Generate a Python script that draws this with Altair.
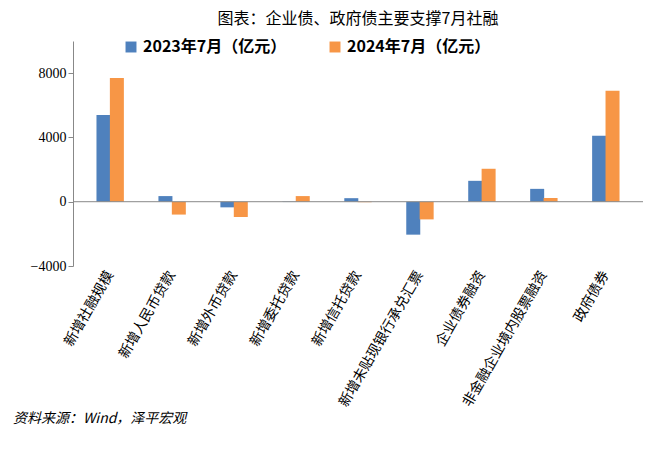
import altair as alt
import pandas as pd

categories = ["新增社融规模", "新增人民币贷款", "新增外币贷款", "新增委托贷款", "新增信托贷款",
              "新增未贴现银行承兑汇票", "企业债券融资", "非金融企业境内股票融资", "政府债券"]
v2023 = [5400, 350, -350, -20, 220, -2050, 1300, 800, 4100]
v2024 = [7700, -800, -950, 350, -30, -1100, 2050, 230, 6900]
series = ["2023年7月（亿元）", "2024年7月（亿元）"]

rows = []
for c, a, b in zip(categories, v2023, v2024):
    rows.append({"cat": c, "s": series[0], "v": a})
    rows.append({"cat": c, "s": series[1], "v": b})
df = pd.DataFrame(rows)

font = "Noto Sans CJK SC"

bars = alt.Chart(df).mark_bar(size=14).encode(
    x=alt.X("cat:N", sort=categories, title=None,
            axis=alt.Axis(labelAngle=300, labelFontSize=14, labelFont=font, labelColor="black",
                          domain=False, ticks=False, labelPadding=6, labelLimit=200)),
    xOffset=alt.XOffset("s:N", sort=series, scale=alt.Scale(paddingInner=0.3, paddingOuter=1.0)),
    y=alt.Y("v:Q", title=None, scale=alt.Scale(domain=[-4000, 10000]),
            axis=alt.Axis(values=list(range(-4000, 10001, 2000)), format="d", labelOverlap=False,
                          grid=False, labelFontSize=14,
                          labelFont="Liberation Serif", labelColor="black", domainColor="#888",
                          tickColor="#888")),
    color=alt.Color("s:N", sort=series, title=None,
                    scale=alt.Scale(domain=series, range=["#4f81bd", "#f79646"]),
                    legend=alt.Legend(orient="none", legendX=50, legendY=-2, direction="horizontal",
                                      labelFontSize=16, labelFontWeight="bold", labelFont=font,
                                      symbolType="square", symbolSize=120, columnPadding=40,
                                      labelColor="black")),
)

zero = alt.Chart(pd.DataFrame({"y": [0]})).mark_rule(color="#888").encode(y="y:Q")

main = alt.layer(bars, zero).properties(
    width=570, height=225,
    title=alt.TitleParams("图表：企业债、政府债主要支撑7月社融", font=font, fontSize=16,
                          fontWeight="normal", anchor="middle", offset=14),
)

footer = alt.Chart(pd.DataFrame({"t": ["资料来源：Wind，泽平宏观"]})).mark_text(
    align="left", font=font, fontSize=14, fontStyle="italic", color="black"
).encode(text="t:N", x=alt.value(-60), y=alt.value(8)).properties(width=570, height=16)

chart = alt.vconcat(main, footer, spacing=2).configure_view(stroke=None).properties(
    padding={"left": 5, "right": 5, "top": 3, "bottom": 3})
chart.save("out.html", embed_options={"renderer": "svg", "actions": False})
